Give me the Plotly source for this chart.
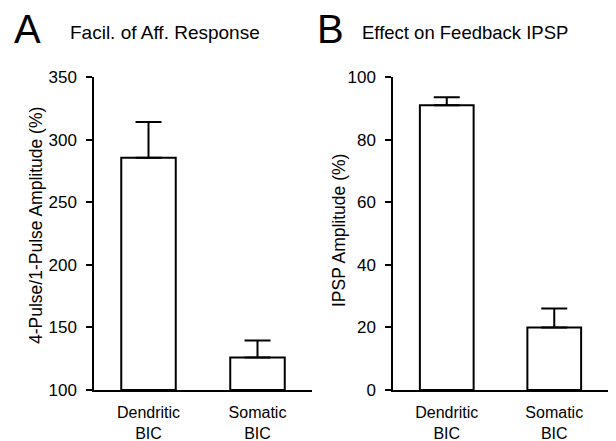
import plotly.graph_objects as go

categories = ["Dendritic<br>BIC", "Somatic<br>BIC"]
facil_values = [285.5, 126]
facil_err = [28.5, 13.5]
ipsp_values = [91, 20]
ipsp_err = [2.5, 6]
yticks_a = [100, 150, 200, 250, 300, 350]
yticks_b = [0, 20, 40, 60, 80, 100]

FONT = "Liberation Sans"
W, H = 616, 441
OFF = 8  # page body margin offset

def fx(x):
    return (x - OFF) / W

def fy(y):
    return 1 - (y - OFF) / H

fig = go.Figure()

def bar(vals, errs, xa, ya, base):
    return go.Bar(
        x=categories, y=[v - base for v in vals], base=base,
        xaxis=xa, yaxis=ya, width=0.5,
        marker=dict(color="white", line=dict(color="black", width=2)),
        error_y=dict(type="data", symmetric=False, array=errs,
                     arrayminus=[0] * len(errs), color="black",
                     thickness=2, width=13),
        showlegend=False, hoverinfo="skip",
    )

fig.add_trace(bar(facil_values, facil_err, "x", "y", 100))
fig.add_trace(bar(ipsp_values, ipsp_err, "x2", "y2", 0))

xcommon = dict(type="category", range=[-0.5, 1.5], showline=True,
               linecolor="black", linewidth=1.5, ticks="outside", ticklen=7,
               tickcolor="rgba(0,0,0,0)", showgrid=False, automargin=False,
               zeroline=False, tickfont=dict(family=FONT, size=16, color="black"))
ycommon = dict(showline=True, linecolor="black", linewidth=1.5, ticks="outside",
               ticklen=6, tickwidth=1.5, tickcolor="black", showgrid=False,
               ticklabelstandoff=6, automargin=False,
               zeroline=False, tickfont=dict(family=FONT, size=17, color="black"))

annots = [
    ("A", 28, 29, 40, "center", 0),
    ("Facil. of Aff. Response", 68, 32.5, 19, "left", 0),
    ("B", 330, 29, 40, "center", 0),
    ("Effect on Feedback IPSP", 360, 32.5, 18.5, "left", 0),
    ("4-Pulse/1-Pulse Amplitude (%)", 36, 226, 17.5, "center", -90),
    ("IPSP Amplitude (%)", 339, 231, 17.5, "center", -90),
]
anns = []
for text, x, y, size, xanchor, ang in annots:
    anns.append(dict(text=text, x=fx(x), y=fy(y), xref="paper", yref="paper",
                     showarrow=False, textangle=ang, xanchor=xanchor,
                     yanchor="middle", font=dict(family=FONT, size=size, color="black")))

fig.update_layout(
    width=W, height=H,
    margin=dict(l=0, r=0, t=0, b=0, pad=0),
    paper_bgcolor="white", plot_bgcolor="white",
    bargap=0.5,
    xaxis=dict(domain=[fx(94), fx(312)], anchor="y", **xcommon),
    yaxis=dict(domain=[fy(390), fy(77)], anchor="x",
               range=[100, 350], tickvals=yticks_a, **ycommon),
    xaxis2=dict(domain=[fx(393), fx(608)], anchor="y2", **xcommon),
    yaxis2=dict(domain=[fy(390), fy(77)], anchor="x2",
                range=[0, 100], tickvals=yticks_b, **ycommon),
    annotations=anns,
)

fig.write_html("out.html")
